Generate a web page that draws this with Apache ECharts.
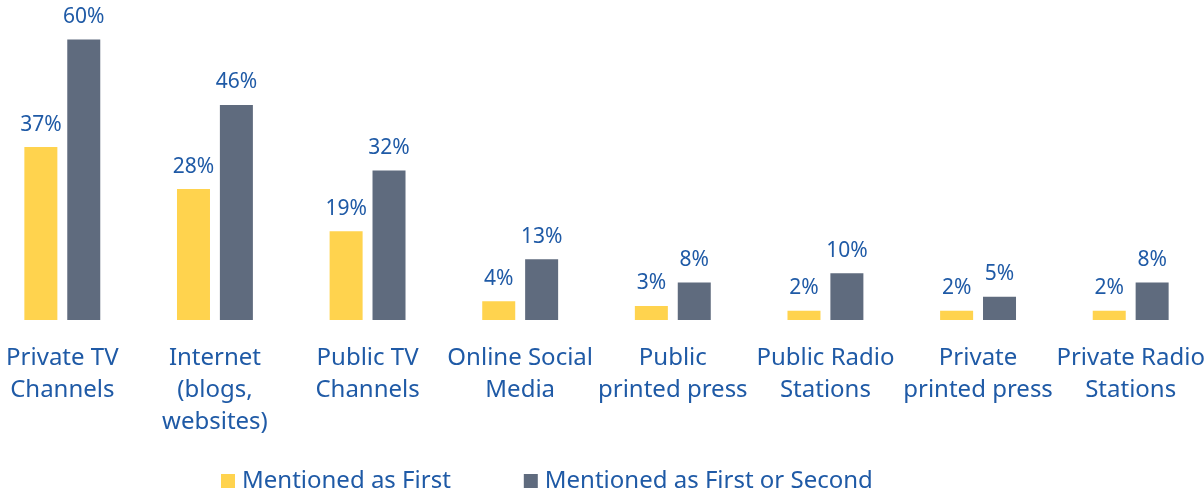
<!DOCTYPE html>
<html>
<head>
<meta charset="utf-8">
<script src="https://cdn.jsdelivr.net/npm/echarts@6/dist/echarts.min.js"></script>
<style>
  html, body { margin: 0; padding: 0; background: #ffffff; }
  #chart { width: 1204px; height: 493px; }
</style>
</head>
<body>
<div id="chart"></div>
<script>
// Media sources, share of respondents (%)
const categories = [
  'Private TV\nChannels',
  'Internet\n(blogs,\nwebsites)',
  'Public TV\nChannels',
  'Online Social\nMedia',
  'Public\nprinted press',
  'Public Radio\nStations',
  'Private\nprinted press',
  'Private Radio\nStations'
];
const seriesNames = ['Mentioned as First', 'Mentioned as First or Second'];
const mentionedFirst = [37, 28, 19, 4, 3, 2, 2, 2];
const mentionedFirstOrSecond = [60, 46, 32, 13, 8, 10, 5, 8];

const TEXT_BLUE = '#1f5aa6';
const FONT = '"Noto Sans", sans-serif';

const chart = echarts.init(document.getElementById('chart'), null, { renderer: 'canvas' });

const valueLabel = {
  show: true,
  position: 'top',
  distance: 12,
  formatter: p => p.value + '%',
  color: TEXT_BLUE,
  fontFamily: FONT,
  fontSize: 21
};

chart.setOption({
  animation: false,
  backgroundColor: '#ffffff',
  grid: {
    left: -14,
    right: -3,
    top: 39.5,
    bottom: 173,
    containLabel: false,
    outerBoundsMode: 'none'
  },
  legend: {
    left: 216,
    top: 464,
    itemWidth: 14,
    itemHeight: 14,
    itemGap: 73,
    icon: 'rect',
    textStyle: { color: TEXT_BLUE, fontFamily: FONT, fontSize: 24, padding: [0, 0, 0, 2] },
    data: seriesNames
  },
  xAxis: {
    type: 'category',
    data: categories,
    axisLine: { show: false },
    axisTick: { show: false },
    axisLabel: {
      interval: 0,
      margin: 22,
      color: TEXT_BLUE,
      fontFamily: FONT,
      fontSize: 24,
      lineHeight: 32
    }
  },
  yAxis: {
    type: 'value',
    min: 0,
    max: 60,
    show: false,
    splitLine: { show: false }
  },
  series: [
    {
      name: seriesNames[0],
      type: 'bar',
      data: mentionedFirst,
      barWidth: 33,
      barGap: '30%',
      itemStyle: { color: '#ffd34e' },
      label: valueLabel
    },
    {
      name: seriesNames[1],
      type: 'bar',
      data: mentionedFirstOrSecond,
      barWidth: 33,
      barGap: '30%',
      itemStyle: { color: '#5f6b7e' },
      label: valueLabel
    }
  ]
});
</script>
</body>
</html>
